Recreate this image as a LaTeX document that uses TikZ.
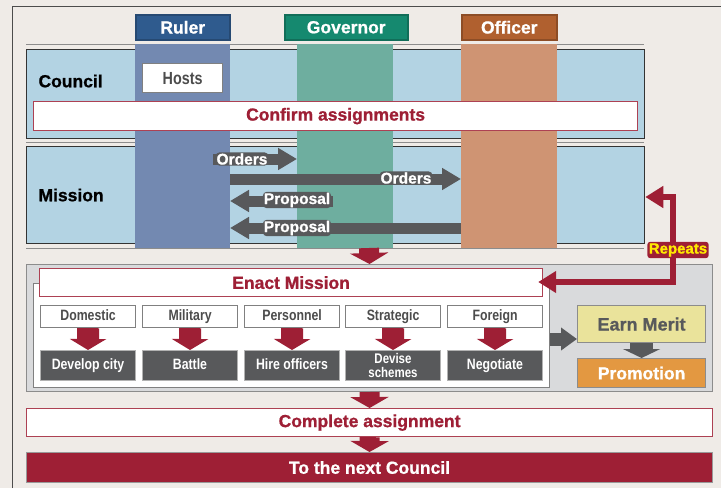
\documentclass[tikz,border=0pt]{standalone}
\usepackage{fontspec}
\setmainfont{Liberation Sans}
\newfontfamily\narrowfont[FakeStretch=0.82]{Liberation Sans}
\newfontfamily\heavyfont[BoldFeatures={FakeBold=0.9}]{Liberation Sans}
\usetikzlibrary{arrows.meta}
\definecolor{paper}{HTML}{EFEBE7}
\definecolor{rulerhead}{HTML}{2F5B8E}
\definecolor{rulerlane}{HTML}{7389B1}
\definecolor{govhead}{HTML}{15896F}
\definecolor{govlane}{HTML}{6EAE9F}
\definecolor{offhead}{HTML}{B0602F}
\definecolor{offlane}{HTML}{CF9473}
\definecolor{skyfill}{HTML}{B3D3E3}
\definecolor{darkgrey}{HTML}{58595B}
\definecolor{wine}{HTML}{9E1F35}
\definecolor{panelgrey}{HTML}{D9DADC}
\definecolor{meritfill}{HTML}{EAE39B}
\definecolor{promofill}{HTML}{E39841}
\definecolor{repeatyellow}{HTML}{FFEA00}

\begin{document}
\begin{tikzpicture}[x=1pt,y=-1pt,
  big/.style={font=\fontsize{17.5}{19}\selectfont\heavyfont\bfseries},
  small/.style={font=\fontsize{15}{13}\selectfont\narrowfont\bfseries},
  head/.style={big,text=white,line width=1.5pt,inner sep=0pt,anchor=north west,minimum width=94pt,minimum height=25pt},
  band/.style={draw=black!80,line width=1.3pt,fill=skyfill,inner sep=0pt,anchor=north west},
  whitebox/.style={draw=black!50,line width=1.2pt,fill=white,inner sep=0pt,anchor=north west},
  redbox/.style={draw=wine!85,line width=1.2pt,fill=white,inner sep=0pt,anchor=north west,big,text=wine},
  catbox/.style={whitebox,small,text=black!70,minimum width=95pt,minimum height=22pt,text height=11pt,text depth=3pt},
  actbox/.style={draw=black!30,line width=1pt,fill=darkgrey,inner sep=0pt,anchor=north west,small,text=white,align=center,minimum width=95pt,minimum height=30pt},
  actline/.style={text height=11pt,text depth=3pt},
  acttwo/.style={font=\fontsize{14}{14}\selectfont\narrowfont\bfseries},
  flow/.style={draw=darkgrey,line width=11pt,-{Triangle[width=21pt,length=19pt]}},
  flowlbl/.style={fill=darkgrey,text=white,rounded corners=4pt,inner sep=1pt,font=\fontsize{15.5}{16}\selectfont\heavyfont\bfseries},
  redarrow/.style={draw=wine,line width=20pt,-{Triangle[width=38pt,length=11pt]}},
  catarrow/.style={draw=wine,line width=22pt,-{Triangle[width=36pt,length=11pt]}},
  greyarrow/.style={draw=darkgrey,line width=13pt,-{Triangle[width=22pt,length=16pt]}},
  greydown/.style={draw=darkgrey,line width=23pt,-{Triangle[width=37pt,length=9pt]}},
  repeatline/.style={draw=wine,line width=6pt,{Triangle[width=21pt,length=18pt]}-{Triangle[width=21pt,length=18pt]}},
]
\useasboundingbox (0,0) rectangle (721,488);
\fill[paper] (0,0) rectangle (721,488);
\draw[black!70,line width=0.8pt] (12,488) -- (12,6) -- (721,6);

% lane heads
\node[head,fill=rulerhead,draw=rulerhead!80!black] (ruler) at (135,14) {Ruler};
\node[head,fill=govhead,draw=govhead!80!black,minimum width=123pt] (governor) at (284,14) {Governor};
\node[head,fill=offhead,draw=offhead!80!black,minimum width=95pt] (officer) at (461,14) {Officer};

% council and mission bands
\draw[black!45,line width=0.8pt] (26,44) -- (644,44);
\node[band,minimum width=618pt,minimum height=89pt] (council) at (26,49) {};
\draw[black!45,line width=0.8pt] (26,142) -- (644,142);
\node[band,minimum width=618pt,minimum height=97pt] (mission) at (26,146) {};
\draw[black!45,line width=0.8pt] (26,248) -- (644,248);

% lanes
\fill[rulerlane] (135,44) rectangle (230,248);
\fill[govlane] (297,44) rectangle (393,248);
\fill[offlane] (461,44) rectangle (557,248);

\node[big,anchor=west] (councillbl) at (35,81) {Council};
\node[big,anchor=west] (missionlbl) at (35,195) {Mission};
\node[whitebox,minimum width=80pt,minimum height=29pt,text=black!70,font=\fontsize{17.5}{19}\selectfont\narrowfont\bfseries] (hosts) at (142,63) {Hosts};
\node[redbox,minimum width=604pt,minimum height=29pt] (confirm) at (33,101) {Confirm assignments};

% orders and proposals
\coordinate (o1a) at (213,159);
\coordinate (o1b) at (297,159);
\coordinate (o2a) at (230,179);
\coordinate (o2b) at (461,179);
\coordinate (p1a) at (333,201);
\coordinate (p1b) at (230,201);
\coordinate (p2a) at (461,228);
\coordinate (p2b) at (230,228);
\draw[flow] (o1a) -- (o1b);
\draw[flow] (o2a) -- (o2b);
\draw[flow] (p1a) -- (p1b);
\draw[flow] (p2a) -- (p2b);
\node[flowlbl] (orders1) at (242,159) {Orders};
\node[flowlbl] (orders2) at (406,178) {Orders};
\node[flowlbl] (proposal1) at (297,200) {Proposal};
\node[flowlbl] (proposal2) at (297,228) {Proposal};

% enact mission panel
\node[draw=black!45,line width=1pt,fill=panelgrey,inner sep=0pt,anchor=north west,minimum width=686pt,minimum height=127pt] (panel) at (26,264) {};
\node[whitebox,minimum width=516pt,minimum height=104pt] (inner) at (33,283) {};
\node[redbox,minimum width=503pt,minimum height=28pt] (enact) at (39,268) {Enact Mission};
\coordinate (mbot) at (369,248);
\draw[redarrow] (mbot) -- (panel.north);

\foreach \x/\cat/\act/\st/\nm in {40/Domestic/Develop city/actline/dom,142/Military/Battle/actline/mil,244/Personnel/Hire officers/actline/per,345/Strategic/{Devise\\schemes}/acttwo/str,447/Foreign/Negotiate/actline/for}{
  \node[catbox] (\nm c) at (\x,305) {\cat};
  \node[actbox,\st] (\nm a) at (\x,350) {\act};
  \draw[catarrow] (\nm c.south) -- (\nm a.north);
}

% merit
\node[draw=black!45,line width=1.2pt,fill=meritfill,inner sep=0pt,anchor=north west,minimum width=128pt,minimum height=37pt,text=darkgrey,font=\fontsize{18}{19}\selectfont\heavyfont\bfseries] (merit) at (577,305) {Earn Merit};
\node[draw=black!45,line width=1.2pt,fill=promofill,inner sep=0pt,anchor=north west,minimum width=128pt,minimum height=29pt,big,text=white] (promo) at (577,358) {Promotion};
\coordinate (gy) at (0,339);
\draw[greyarrow] (inner.east |- gy) -- (merit.west |- gy);
\draw[greydown] (merit.south) -- (promo.north);

% repeats loop
\coordinate (rtop) at (673,197);
\coordinate (rbot) at (673,282);
\draw[repeatline] (mission.east |- rtop) -- (rtop) -- (rbot) -- ([xshift=-5pt]enact.east |- rbot);
\node[fill=wine,rounded corners=3pt,inner sep=1.5pt,text=repeatyellow,font=\fontsize{15}{16}\selectfont\heavyfont\bfseries] (repeats) at (678,250) {Repeats};

% completion
\node[redbox,minimum width=686pt,minimum height=28pt] (complete) at (26,408) {Complete assignment};
\draw[redarrow] (panel.south) -- (complete.north);
\node[draw=black!40,line width=1pt,fill=wine,inner sep=0pt,anchor=north west,minimum width=686pt,minimum height=30pt,big,text=white] (nextcouncil) at (26,452) {To the next Council};
\draw[redarrow] (complete.south) -- (nextcouncil.north);
\end{tikzpicture}
\end{document}
